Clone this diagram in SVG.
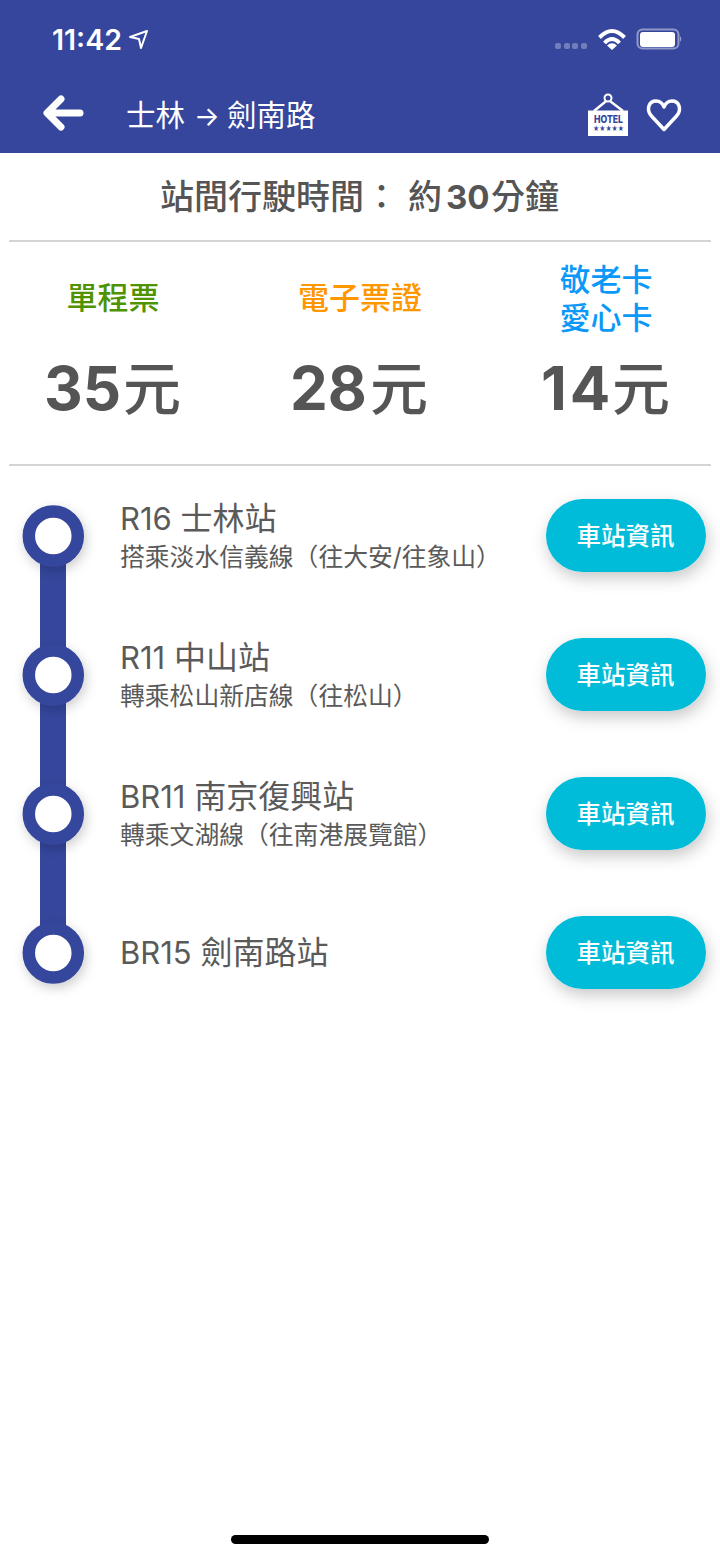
<svg xmlns="http://www.w3.org/2000/svg" width="720" height="1558" viewBox="0 0 720 1558">
<style>
text{font-family:"Inter","Noto Sans CJK TC","Noto Sans",sans-serif}
.title{font-size:29.500px;fill:#fff}
.h{font-size:34px;font-weight:500;fill:#555}
.n{font-weight:700;font-size:33px}
.lab{font-size:31px;font-weight:500;text-anchor:middle}
.price{font-size:60px;font-weight:700;fill:#555}
.yuan{font-weight:500;font-size:58px}
.st{font-size:31px;fill:#5a5a5a}
.c{font-size:32px}
.sub{font-size:24.800px;fill:#5a5a5a}
.btn{fill:#00bcd9;filter:url(#s2)}
.bt{font-size:24.500px;font-weight:500;fill:#fff;text-anchor:middle}
.ring{fill:#fff;stroke:#35469c;stroke-width:12.500;filter:url(#s1)}
.rule{stroke:#d4d4d4;stroke-width:2}
</style>
<defs>
<filter id="s1" x="-50%" y="-50%" width="200%" height="200%"><feDropShadow dx="2" dy="4" stdDeviation="6" flood-color="#000" flood-opacity=".2"/></filter>
<filter id="s2" x="-20%" y="-50%" width="140%" height="220%"><feDropShadow dx="2" dy="6" stdDeviation="8" flood-color="#000" flood-opacity=".22"/></filter>
</defs>
<rect width="720" height="1558" fill="#fff"/>
<g id="appbar">
<rect width="720" height="153" fill="#35469c"/>
<text x="52" y="50" font-size="28.500" font-weight="600" fill="#fff">11:42</text>
<path d="M130 37L147 31L141 48L139 39Z" fill="none" stroke="#fff" stroke-width="2" stroke-linejoin="round"/>
<g fill="#fff" fill-opacity=".3"><rect x="555" y="43" width="6" height="6" rx="2"/><rect x="564" y="43" width="6" height="6" rx="2"/><rect x="572" y="43" width="6" height="6" rx="2"/><rect x="581" y="43" width="6" height="6" rx="2"/></g>
<g fill="none" stroke="#fff" stroke-width="4"><path d="M599.500 37.500Q612 24.500 624.500 37.500"/><path d="M604.500 43Q612 35 619.500 43"/></g>
<path d="M607 45.500Q612 41 617 45.500L612 50Z" fill="#fff"/>
<rect x="637.500" y="29.500" width="41" height="19" rx="5" fill="none" stroke="#fff" stroke-opacity=".45" stroke-width="2"/>
<rect x="640" y="32" width="35" height="15" rx="3" fill="#fff"/>
<path d="M680 36Q682.500 39 680 42Z" fill="#fff" fill-opacity=".5"/>
<path d="M80 113H49M61 99L47 113L61 127" fill="none" stroke="#fff" stroke-width="7" stroke-linecap="round" stroke-linejoin="round"/>
<text class="title" y="126"><tspan x="126">士林</tspan><tspan x="194" font-size="27">→</tspan><tspan x="227">劍南路</tspan></text>
<g id="hotel">
<path d="M594 111L608 99.500L623 111" fill="none" stroke="#fff" stroke-width="2.500"/>
<circle cx="608" cy="98" r="3.500" fill="#35469c" stroke="#fff" stroke-width="2"/>
<rect x="588" y="110.500" width="40" height="25.500" fill="#fff"/>
<text x="594" y="123" font-size="10.500" font-weight="800" fill="#35469c" textLength="29" lengthAdjust="spacingAndGlyphs">HOTEL</text>
<text x="593" y="131" font-size="7" fill="#35469c" font-family="DejaVu Sans" textLength="31" lengthAdjust="spacingAndGlyphs">★★★★★</text>
</g>
<path d="M664 129.500L651 115.500C646 109 649 101 656 101C660 101 663 104 664 107C665 104 668 101 672 101C679 101 682 109 677 115.500Z" fill="none" stroke="#fff" stroke-width="3.500" stroke-linejoin="round"/>
</g>
<text class="h" y="209"><tspan x="160">站間行駛時間</tspan><tspan x="364.500">：</tspan><tspan x="408">約</tspan><tspan x="446" class="n">30</tspan><tspan x="491">分</tspan><tspan x="525">鐘</tspan></text>
<line class="rule" x1="9" y1="241" x2="711" y2="241"/>
<g id="fares">
<text class="lab" x="113" y="309" fill="#4f9300">單程票</text>
<text class="lab" x="360" y="309" fill="#ff9800">電子票證</text>
<text class="lab" x="606" y="291" fill="#0b98f8">敬老卡</text>
<text class="lab" x="606" y="329" fill="#0b98f8">愛心卡</text>
<text class="price" y="410"><tspan x="44">35</tspan><tspan x="123" class="yuan">元</tspan></text>
<text class="price" y="410"><tspan x="290">28</tspan><tspan x="370" class="yuan">元</tspan></text>
<text class="price" y="410"><tspan x="541" letter-spacing="3">14</tspan><tspan x="612" class="yuan">元</tspan></text>
</g>
<line class="rule" x1="9" y1="465" x2="711" y2="465"/>
<g id="connectors"><rect x="40" y="536" width="26" height="417" fill="#35469c"/></g>
<g id="n1"><circle class="ring" cx="53.300" cy="536" r="24.500"/><text class="st" x="120" y="530">R16 <tspan class="c">士林站</tspan></text><text class="sub" x="120" y="566">搭乘淡水信義線（往大安/往象山）</text><rect class="btn" x="546" y="499" width="160" height="73" rx="36.500"/><text class="bt" x="625.500" y="545">車站資訊</text></g>
<g id="n2"><circle class="ring" cx="53.300" cy="675" r="24.500"/><text class="st" x="120" y="669">R11 <tspan class="c">中山站</tspan></text><text class="sub" x="120" y="705">轉乘松山新店線（往松山）</text><rect class="btn" x="546" y="638" width="160" height="73" rx="36.500"/><text class="bt" x="625.500" y="684">車站資訊</text></g>
<g id="n3"><circle class="ring" cx="53.300" cy="814" r="24.500"/><text class="st" x="120" y="808">BR11 <tspan class="c">南京復興站</tspan></text><text class="sub" x="120" y="844">轉乘文湖線（往南港展覽館）</text><rect class="btn" x="546" y="777" width="160" height="73" rx="36.500"/><text class="bt" x="625.500" y="823">車站資訊</text></g>
<g id="n4"><circle class="ring" cx="53.300" cy="953" r="24.500"/><text class="st" x="120" y="964">BR15 <tspan class="c">劍南路站</tspan></text><rect class="btn" x="546" y="916" width="160" height="73" rx="36.500"/><text class="bt" x="625.500" y="962">車站資訊</text></g>
<rect id="home" x="231" y="1535" width="258" height="9" rx="4.500" fill="#000"/>
</svg>
